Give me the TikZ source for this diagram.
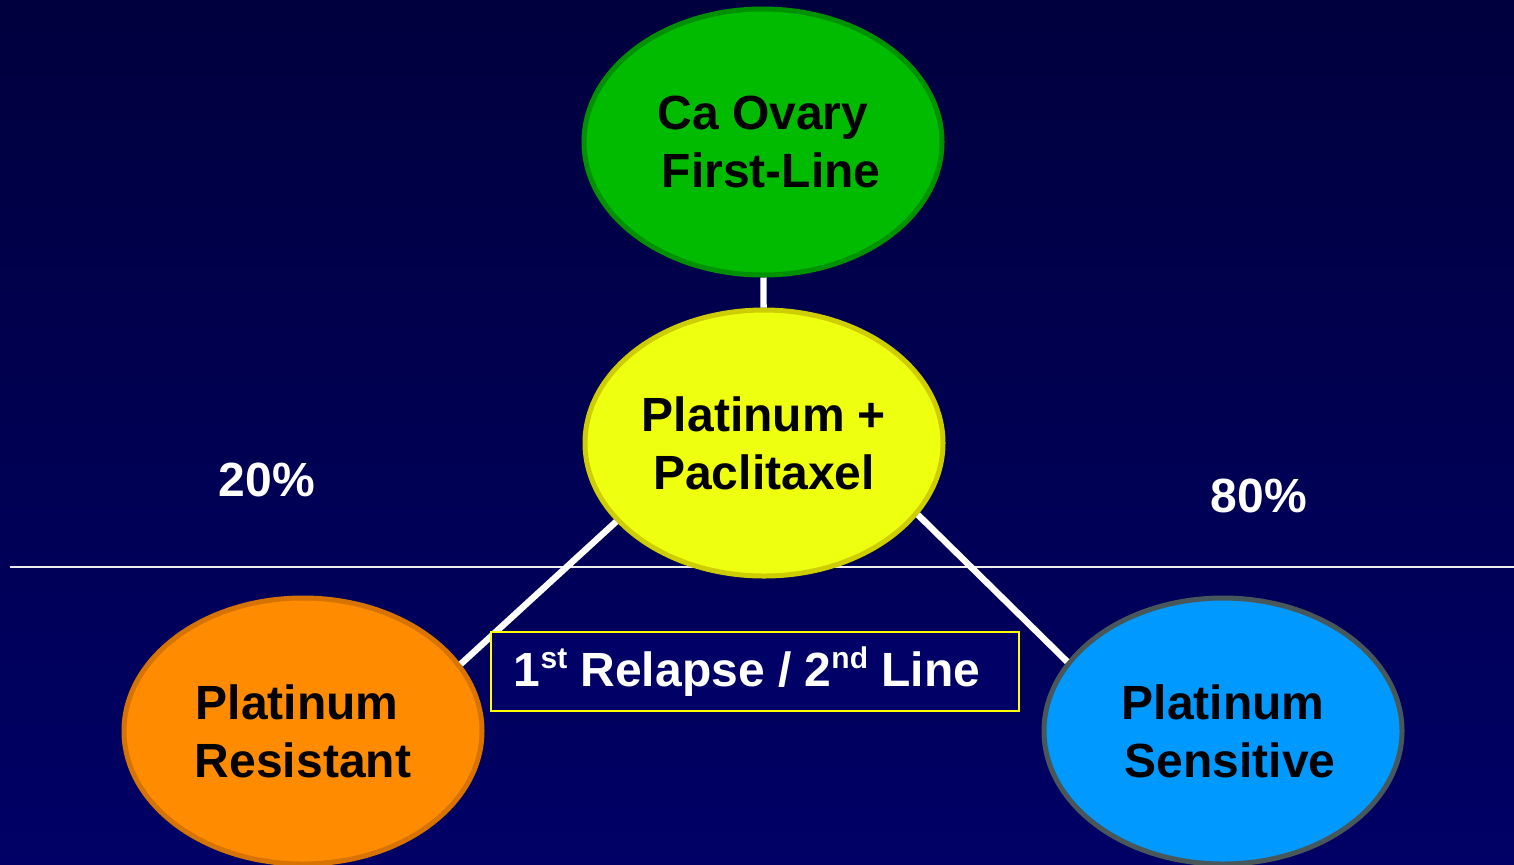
\documentclass[tikz,border=0pt]{standalone}
\usepackage{fontspec}
\setmainfont{Liberation Sans}
\usetikzlibrary{shapes.geometric}
\definecolor{bgtop}{RGB}{0,0,62}
\definecolor{bgbot}{RGB}{0,0,102}
\definecolor{gfill}{RGB}{0,187,0}
\definecolor{gline}{RGB}{0,145,0}
\definecolor{yfill}{RGB}{238,255,16}
\definecolor{yline}{RGB}{205,205,0}
\definecolor{ofill}{RGB}{255,140,0}
\definecolor{oline}{RGB}{215,115,0}
\definecolor{bfill}{RGB}{0,153,255}
\definecolor{bline}{RGB}{72,88,90}
\definecolor{boxline}{RGB}{255,255,0}
\newcommand{\supx}[1]{\raisebox{0.36em}{\fontsize{15}{15}\selectfont #1}}
\tikzset{
  oval/.style={ellipse, minimum width=179pt, minimum height=133pt, inner sep=0pt,
    line width=2.5pt, align=center, text=black,
    font=\fontsize{24}{29}\selectfont\bfseries},
  link/.style={draw=white, line width=3.2pt},
  pct/.style={text=white, font=\fontsize{24}{29}\selectfont\bfseries},
}
\begin{document}
\begin{tikzpicture}[x=0.5pt,y=-0.5pt]
\useasboundingbox (0,0) rectangle (1514,864);
\shade[top color=bgtop, bottom color=bgbot] (0,0) rectangle (1514,864);
\draw[white!85!gray, line width=0.8pt] (10,567) -- (1514,567);
\node[oval, fill=gfill, draw=gline] (ca) at (763,142) {Ca Ovary\\\hspace*{8pt}First-Line};
\node[oval, fill=yfill, draw=yline] (pp) at (764,443) {Platinum +\\Paclitaxel};
\node[oval, fill=ofill, draw=oline] (pr) at (303,731) {Platinum\hspace*{6pt}\\Resistant};
\node[oval, fill=bfill, draw=bline] (ps) at (1223,731) {Platinum\\\hspace*{7pt}Sensitive};
\draw[link] (ca) -- (pp);
\draw[link] (pp.-152) -- (pr.23.6);
\draw[link] (pp.-25.8) -- (ps.156.6);
\node[draw=boxline, line width=1pt, fill=bgbot, minimum width=264pt, minimum height=39.5pt,
  text=white, font=\fontsize{24}{29}\selectfont\bfseries] (rl) at (755,671.5)
  {1\supx{st} Relapse / 2\supx{nd} Line\hspace*{8pt}};
\node[pct] (p20) at (267,480) {20\%};
\node[pct] (p80) at (1259,496) {80\%};
\end{tikzpicture}
\end{document}
